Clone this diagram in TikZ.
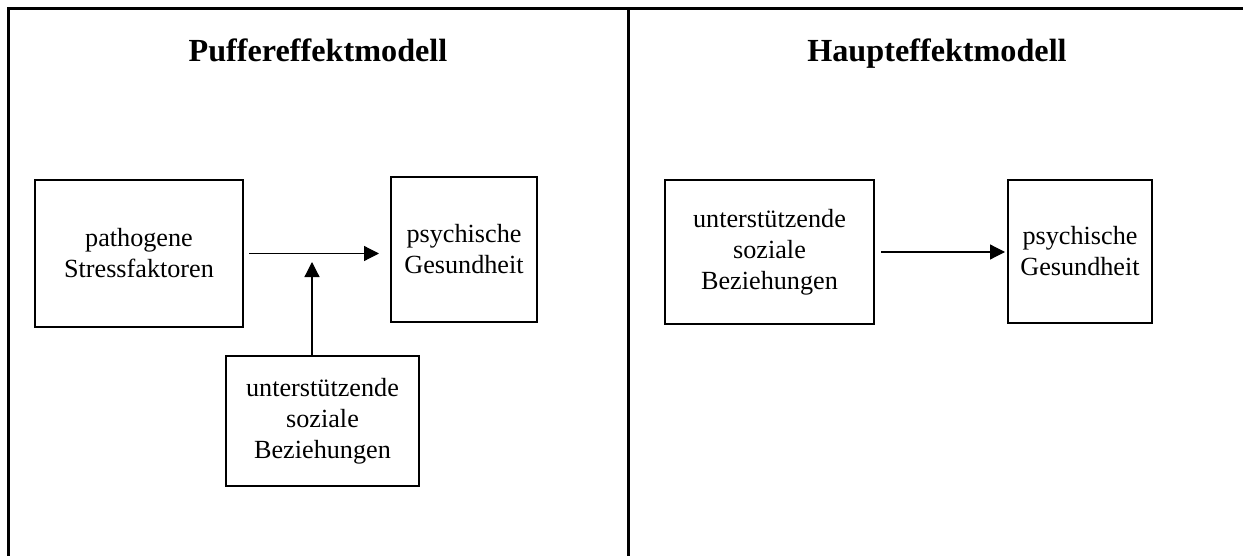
\documentclass[tikz,border=0pt]{standalone}
\usepackage{fontspec}
\setmainfont{Liberation Serif}
\usetikzlibrary{arrows.meta,positioning}
\tikzset{
  every picture/.append style={line cap=butt,line join=miter},
  modell frame/.style={line width=1.5pt},
  modell title/.style={anchor=base,font=\fontsize{16.1pt}{18pt}\selectfont\bfseries},
  modell box/.style={draw,line width=1pt,inner sep=0pt,align=center,
    font=\fontsize{13.1pt}{15.5pt}\selectfont},
  modell arrow/.style={line width=0.6pt,-{Triangle[length=7.5pt,width=7.5pt]}}
}
\begin{document}
\begin{tikzpicture}[x=0.5pt,y=-0.5pt]
    \useasboundingbox (0,0) rectangle (1243,556);
    \draw[modell frame] (8,556) -- (8,9) -- (1243,9);
    \draw[modell frame] (628,9) -- (628,556);
    \node[modell title] (titleL) at (318,62) {Puffereffektmodell};
    \node[modell title] (titleR) at (937,62) {Haupteffektmodell};
    \node[modell box,minimum width=104pt,minimum height=73.5pt] (stressL) at (139,253.5) {pathogene\\Stressfaktoren};
    \node[modell box,minimum width=73pt,minimum height=72.5pt] (healthL) at (464,249.5) {psychische\\Gesundheit};
    \node[modell box,minimum width=96.5pt,minimum height=65pt] (supportL) at (322.5,421) {unterst\"utzende\\soziale\\Beziehungen};
    \node[modell box,minimum width=104.5pt,minimum height=72pt] (supportR) at (769.5,252) {unterst\"utzende\\soziale\\Beziehungen};
    \node[modell box,minimum width=72pt,minimum height=71.5pt] (healthR) at (1080,251.5) {psychische\\Gesundheit};
    \coordinate (meet) at (312,262);
    \draw[modell arrow] ([xshift=2.5pt]stressL.east) -- ([xshift=-5.5pt]healthL.west |- stressL.east);
    \draw[modell arrow] (supportL.north -| meet) -- (meet);
    \draw[modell arrow] ([xshift=3pt]supportR.east) -- ([xshift=-1pt]healthR.west |- supportR.east);
  \end{tikzpicture}
\end{document}
